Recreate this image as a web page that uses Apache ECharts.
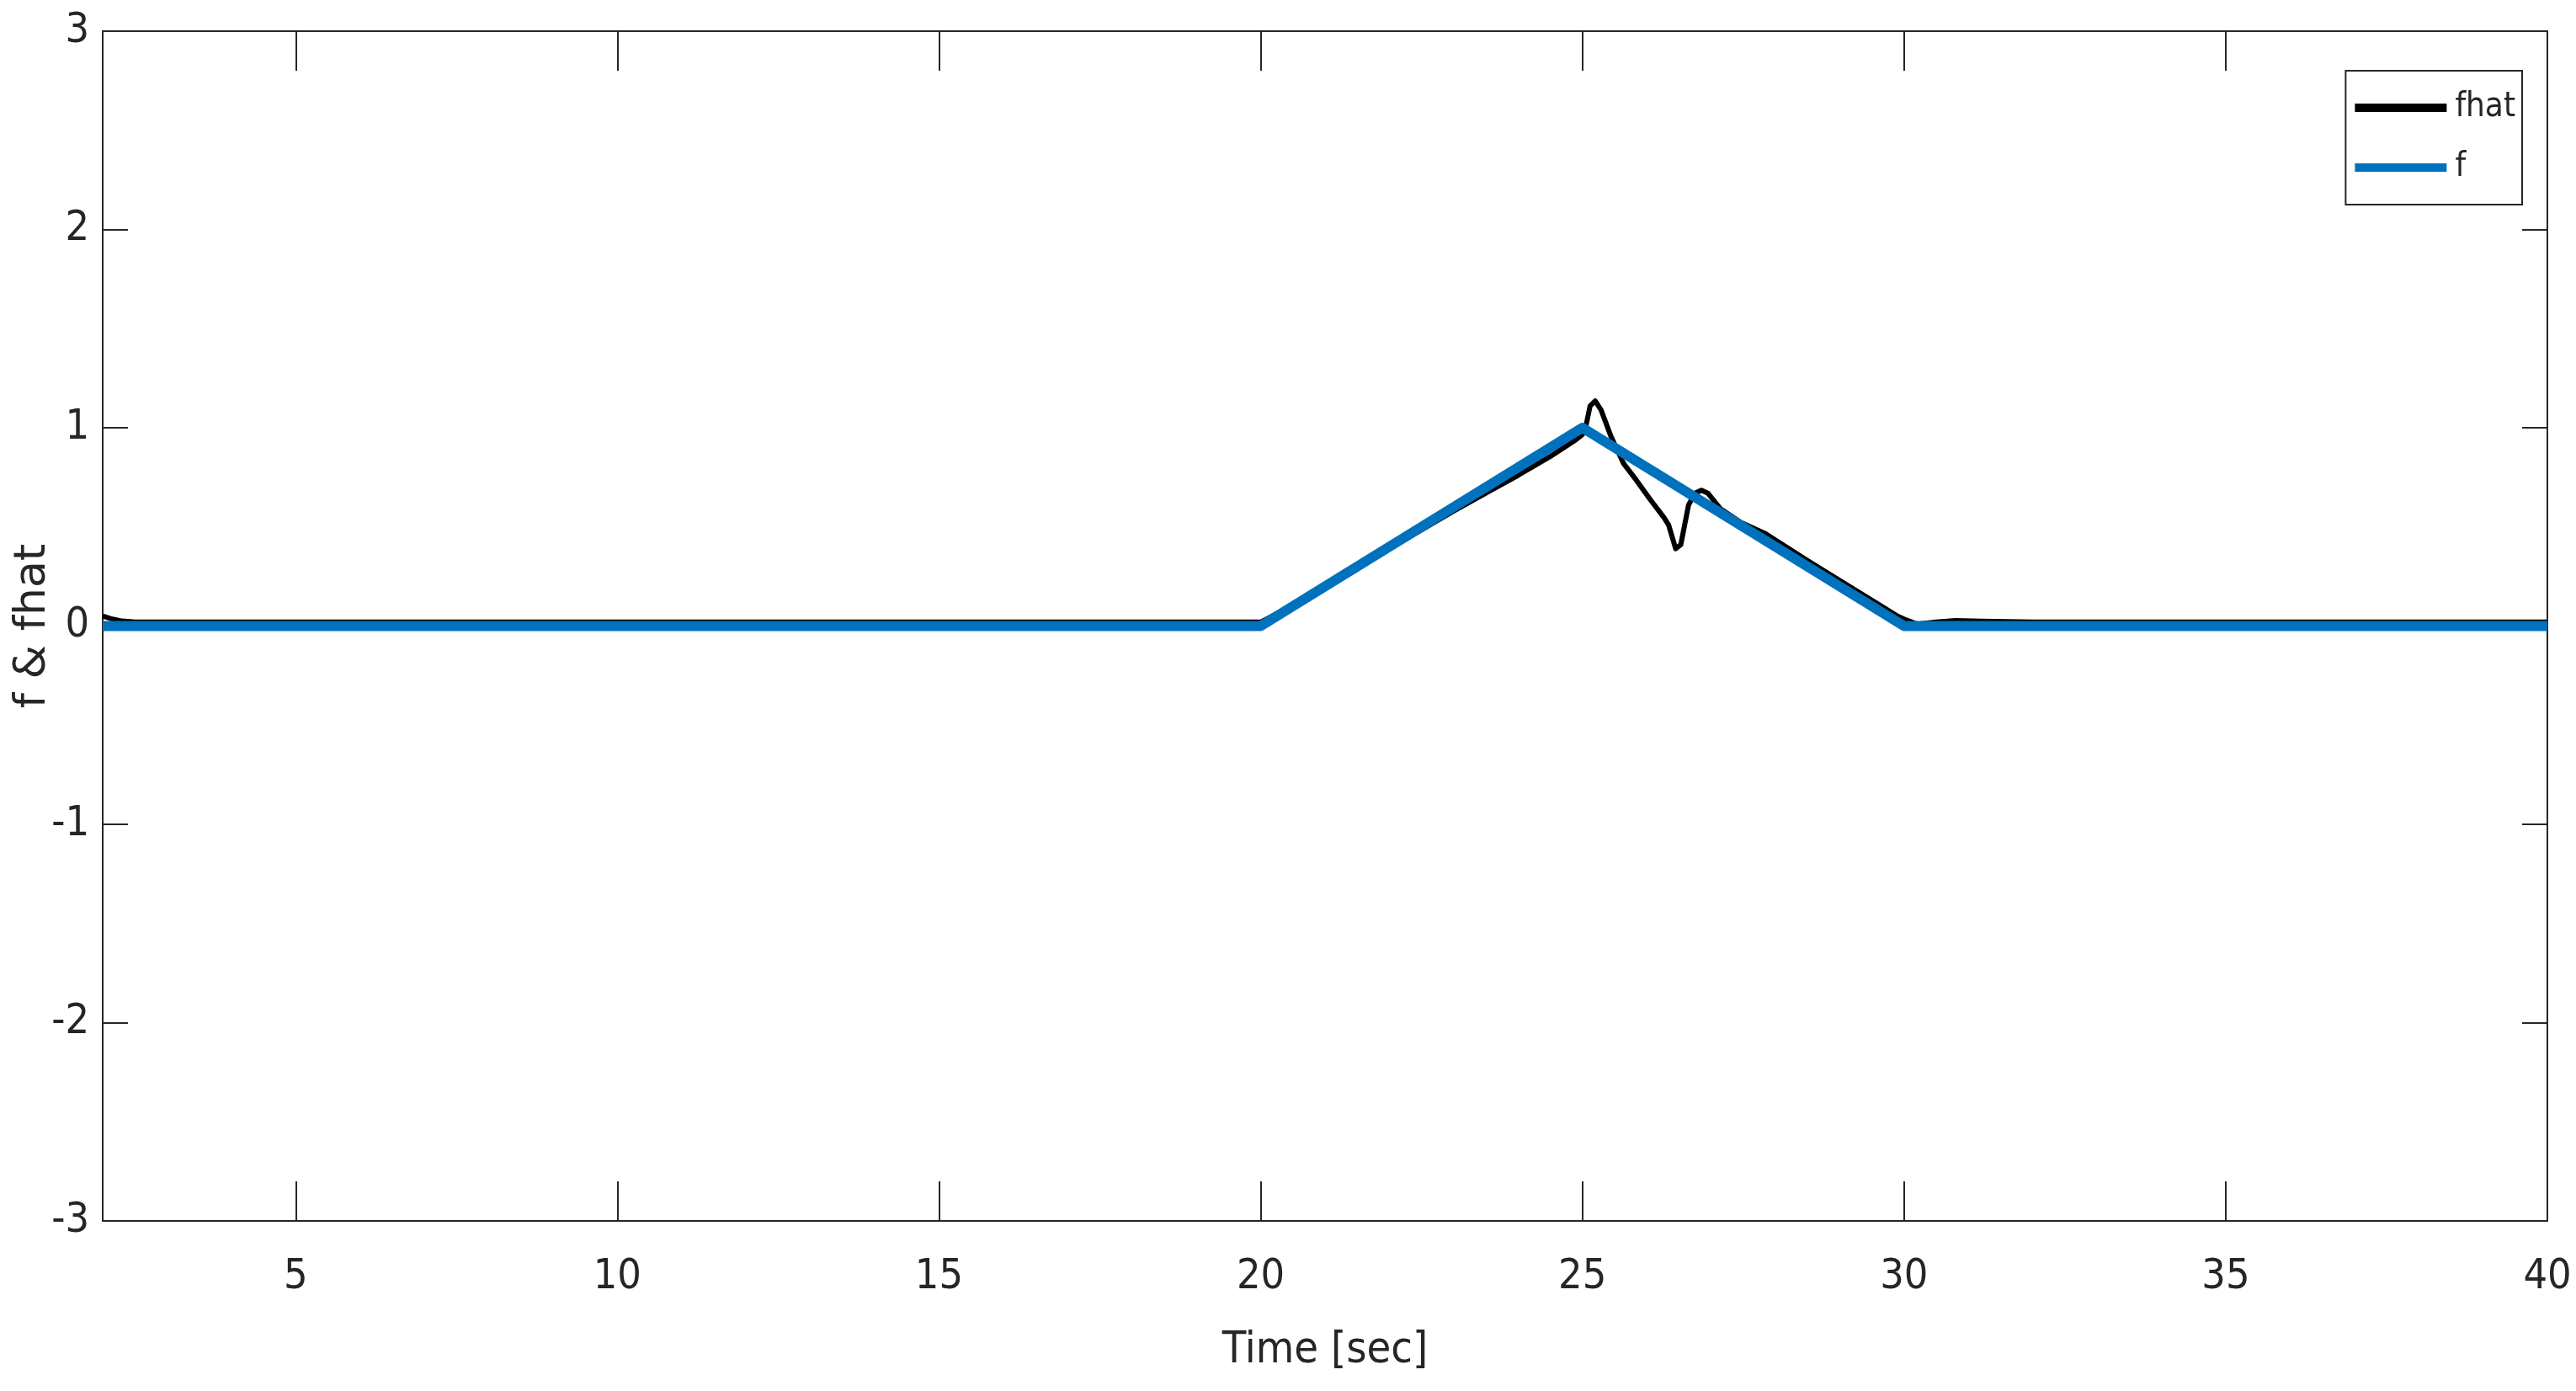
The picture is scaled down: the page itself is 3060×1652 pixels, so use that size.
<!DOCTYPE html>
<html>
<head>
<meta charset="utf-8">
<script src="https://cdn.jsdelivr.net/npm/echarts@6/dist/echarts.min.js"></script>
<style>
html,body{margin:0;padding:0;background:#fff;}
#chart{width:3060px;height:1652px;}
</style>
</head>
<body>
<div id="chart"></div>
<script>
// ---- data ----
const fTime  = [2, 20, 25, 30, 40];
const fValue = [0, 0, 1, 0, 0];

const fhatTime = [2.0, 2.15, 2.3, 2.5, 20.0, 20.5, 21.0, 22.0, 23.0, 23.5, 24.0, 24.5, 24.9, 25.0,
  25.05, 25.12, 25.2, 25.29, 25.44, 25.64, 25.84, 26.05, 26.27, 26.34, 26.45, 26.53, 26.65, 26.75,
  26.85, 26.95, 27.15, 27.45, 27.85, 28.5, 29.2, 29.6, 29.9, 30.0, 30.2, 30.5, 30.8, 31.2, 32.0, 40.0];
const fhatValue = [0.05, 0.035, 0.025, 0.02, 0.02, 0.105, 0.2, 0.39, 0.58, 0.67, 0.76, 0.855, 0.94, 0.965,
  1.0, 1.11, 1.135, 1.09, 0.96, 0.82, 0.735, 0.64, 0.546, 0.51, 0.39, 0.41, 0.61, 0.67,
  0.685, 0.67, 0.59, 0.525, 0.465, 0.33, 0.19, 0.11, 0.05, 0.035, 0.01, 0.02, 0.028, 0.024, 0.02, 0.02];

const xTicks = [5, 10, 15, 20, 25, 30, 35, 40];
const yTicks = [-3, -2, -1, 0, 1, 2, 3];
const seriesNames = ['fhat', 'f'];
const xName = 'Time [sec]';
const yName = 'f & fhat';

// ---- chart ----
const narrow = "'Liberation Sans Narrow', 'DejaVu Sans Condensed', 'Liberation Sans', sans-serif";
const ink = '#262626';
const chart = echarts.init(document.getElementById('chart'), null, {renderer: 'canvas'});

const zip = (a, b) => a.map((v, i) => [v, b[i]]);

const xBase = {
  type: 'value', min: 2, max: 40,
  axisLine: {show: true, onZero: false, lineStyle: {color: ink, width: 2}},
  axisTick: {show: true, inside: true, length: 47, customValues: xTicks, lineStyle: {color: ink, width: 2}},
  splitLine: {show: false}
};
const yBase = {
  type: 'value', min: yTicks[0], max: yTicks[yTicks.length - 1], interval: 1,
  axisLine: {show: true, onZero: false, lineStyle: {color: ink, width: 2}},
  axisTick: {show: true, inside: true, length: 30, lineStyle: {color: ink, width: 2}},
  splitLine: {show: false}
};

chart.setOption({
  animation: false,
  backgroundColor: '#fff',
  grid: {left: 122, right: 34, top: 37, bottom: 202, containLabel: false, outerBoundsMode: 'none'},
  legend: {
    right: 64, top: 84, orient: 'vertical',
    data: [{name: seriesNames[0], icon: 'rect'}, {name: seriesNames[1], icon: 'rect'}],
    itemWidth: 109, itemHeight: 10, itemGap: 27,
    padding: [22, 8, 22, 11],
    borderColor: ink, borderWidth: 2, backgroundColor: '#fff',
    textStyle: {fontFamily: narrow, fontSize: 40, color: ink, lineHeight: 44, padding: [0, 0, 0, 5]},
    selectedMode: false
  },
  xAxis: [
    Object.assign({}, xBase, {
      position: 'bottom',
      name: xName, nameLocation: 'middle', nameGap: 128, nameMoveOverlap: false,
      nameTextStyle: {fontFamily: narrow, fontSize: 52, color: ink},
      axisLabel: {show: true, customValues: xTicks, margin: 42, fontFamily: narrow, fontSize: 50, color: ink}
    }),
    Object.assign({}, xBase, {position: 'top', axisLabel: {show: false}})
  ],
  yAxis: [
    Object.assign({}, yBase, {
      position: 'left',
      name: yName, nameLocation: 'middle', nameGap: 57, nameRotate: 90, nameMoveOverlap: false,
      nameTextStyle: {fontFamily: "'DejaVu Sans', sans-serif", fontSize: 52, color: ink},
      axisLabel: {show: true, margin: 16, fontFamily: narrow, fontSize: 50, color: ink}
    }),
    Object.assign({}, yBase, {position: 'right', axisLabel: {show: false}})
  ],
  series: [
    {
      name: seriesNames[0], type: 'line', data: zip(fhatTime, fhatValue),
      showSymbol: false, symbol: 'none',
      color: '#000000',
      itemStyle: {color: '#000000'},
      lineStyle: {color: '#000000', width: 6, join: 'round'},
      z: 2
    },
    {
      name: seriesNames[1], type: 'line', data: zip(fTime, fValue),
      showSymbol: false, symbol: 'none',
      color: '#0072BD',
      itemStyle: {color: '#0072BD'},
      lineStyle: {color: '#0072BD', width: 12, join: 'round'},
      z: 3
    }
  ]
});
</script>
</body>
</html>
